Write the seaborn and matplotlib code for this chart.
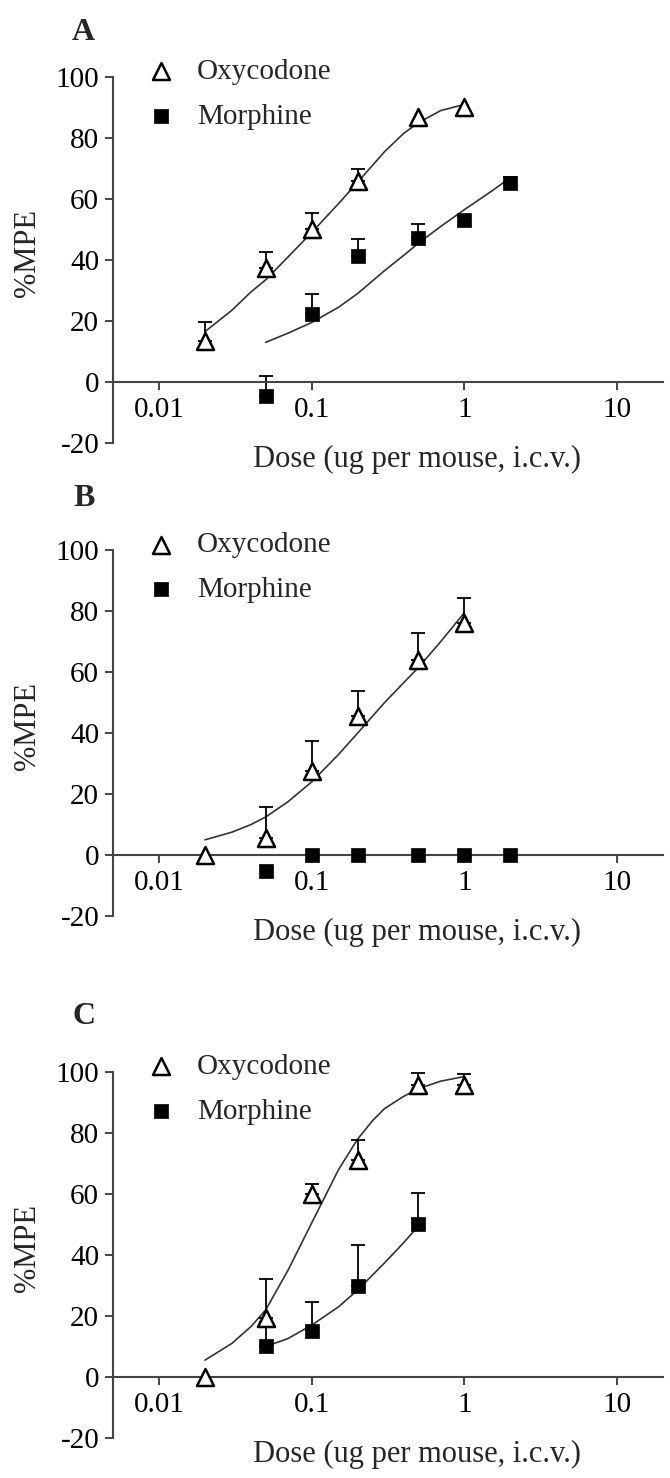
import numpy as np
import pandas as pd
import seaborn as sns
import matplotlib.pyplot as plt

# Doses (ug per mouse, i.c.v.)
oxy_doses = [0.02, 0.05, 0.1, 0.2, 0.5, 1]
mor_doses = [0.05, 0.1, 0.2, 0.5, 1, 2]
mor_doses_c = [0.05, 0.1, 0.2, 0.5]

# ---- Panel A ----
a_oxy_mpe = [13.3, 37.4, 50.0, 65.9, 87.0, 90.2]
a_oxy_err = [6.4, 5.3, 5.3, 3.8, 0, 0]
a_mor_mpe = [-4.7, 22.4, 41.2, 47.3, 53.0, 65.1]
a_mor_err = [6.6, 6.3, 5.7, 4.6, 0, 2.0]

# ---- Panel B ----
b_oxy_mpe = [0.0, 5.5, 27.6, 45.7, 63.9, 76.0]
b_oxy_err = [0, 10.2, 9.9, 8.0, 9.0, 8.4]
b_mor_mpe = [-5.2, 0.0, 0.0, 0.0, 0.0, 0.0]
b_mor_err = [0, 0, 0, 0, 0, 0]

# ---- Panel C ----
c_oxy_mpe = [0.0, 19.2, 59.9, 71.1, 95.8, 95.8]
c_oxy_err = [0, 12.9, 3.3, 6.7, 3.8, 3.4]
c_mor_mpe = [10.1, 15.2, 29.9, 50.0]
c_mor_err = [8.0, 9.5, 13.5, 10.4]

# fitted dose-response curves
a_oxy_fit_x = [0.02, 0.03, 0.04, 0.05, 0.07, 0.1, 0.15, 0.2, 0.3, 0.4, 0.5, 0.7, 1]
a_oxy_fit = [16.5, 23.5, 29.5, 33.5, 41, 49, 58.5, 65.5, 75.5, 81.5, 85, 89, 91]
a_mor_fit_x = [0.05, 0.07, 0.1, 0.15, 0.2, 0.3, 0.4, 0.5, 0.7, 1, 1.5, 2]
a_mor_fit = [13, 16, 19.5, 24.5, 29, 36.5, 41.5, 45.5, 51, 56.5, 62.5, 67]
b_oxy_fit_x = [0.02, 0.03, 0.04, 0.05, 0.07, 0.1, 0.15, 0.2, 0.3, 0.4, 0.5, 0.7, 1]
b_oxy_fit = [5, 7.5, 10, 12.5, 17.5, 24, 33, 40, 50, 56.5, 61.5, 70, 79.5]
c_oxy_fit_x = [0.02, 0.03, 0.04, 0.05, 0.07, 0.1, 0.15, 0.2, 0.25, 0.3, 0.4, 0.5, 0.7, 1]
c_oxy_fit = [5.5, 11, 16.5, 22, 35, 50.5, 68, 78, 84, 88, 92, 94.5, 97, 98.5]
c_mor_fit_x = [0.05, 0.07, 0.1, 0.15, 0.2, 0.3, 0.4, 0.5]
c_mor_fit = [10, 12.6, 17, 23, 28.5, 37.4, 44, 49.5]

sns.set_style('white')
plt.rcParams['font.family'] = ['Liberation Serif', 'DejaVu Serif']
plt.rcParams['axes.unicode_minus'] = False

FS = 21
AX_COL = '#444444'

fig = plt.figure(figsize=(6.7, 14.78), dpi=100)


def draw_panel(ax, letter, letter_y, oxy, oxy_err, mdoses, mor, mor_err,
               ofit_x, ofit, mfit_x, mfit):
    # fitted curves
    sns.lineplot(x=ofit_x, y=ofit, ax=ax, color='#333333', lw=1.2, zorder=1)
    if mfit is not None:
        sns.lineplot(x=mfit_x, y=mfit, ax=ax, color='#333333', lw=1.2, zorder=1)

    # one-sided error bars (upper only)
    for xs, ys, es in [(oxy_doses, oxy, oxy_err), (mdoses, mor, mor_err)]:
        d = pd.DataFrame({'x': xs, 'y': ys, 'e': es})
        d = d[d.e > 0]
        ax.errorbar(d.x, d.y, yerr=[np.zeros(len(d)), d.e], fmt='none', ecolor='black',
                    elinewidth=1.3, capsize=5, capthick=1.3, zorder=2, clip_on=False)

    sns.scatterplot(x=oxy_doses, y=oxy, ax=ax, marker='^', s=150, facecolor='white',
                    edgecolor='black', linewidth=1.8, label='Oxycodone', zorder=4, clip_on=False)
    sns.scatterplot(x=mdoses, y=mor, ax=ax, marker='s', s=115, color='black',
                    edgecolor='black', linewidth=0.5, label='Morphine', zorder=3, clip_on=False)

    ax.set_xscale('log')
    ax.set_xlim(0.005, 20)
    ax.set_ylim(-20, 100)
    ax.set_xticks([0.01, 0.1, 1, 10], labels=['0.01', '0.1', '1', '10'])
    ax.xaxis.set_minor_locator(plt.NullLocator())
    ax.set_yticks(range(-20, 101, 20))

    for s in ['top', 'right']:
        ax.spines[s].set_visible(False)
    ax.spines['bottom'].set_position(('data', 0))
    for s in ['left', 'bottom']:
        ax.spines[s].set_color(AX_COL)
        ax.spines[s].set_linewidth(1.5)

    ax.tick_params(axis='both', direction='out', length=6, width=1.4, color=AX_COL,
                   labelsize=FS, labelcolor='black', bottom=True, left=True)
    ax.tick_params(axis='x', pad=5)
    ax.tick_params(axis='y', pad=4)

    ax.set_ylabel('%MPE', fontsize=FS + 1)
    ax.yaxis.set_label_coords(-0.13, 0.52)
    ax.set_xlabel('Dose (ug per mouse, i.c.v.)', fontsize=FS + 1)
    ax.xaxis.set_label_coords(0.553, -0.005)

    ax.legend(loc='upper left', bbox_to_anchor=(0.06, 1.05), frameon=False, fontsize=FS,
              handlelength=1.0, handletextpad=0.75, labelspacing=0.62, borderpad=0,
              borderaxespad=0)

    fig.text(0.125, letter_y, letter, fontsize=23, fontweight='bold', ha='center', va='center')


left, width, height = 0.1687, 0.8209, 0.2476
ax_a = fig.add_axes([left, 0.7003, width, height])
ax_b = fig.add_axes([left, 0.3802, width, height])
ax_c = fig.add_axes([left, 0.0271, width, height])

draw_panel(ax_a, 'A', 0.978, a_oxy_mpe, a_oxy_err, mor_doses, a_mor_mpe, a_mor_err,
           a_oxy_fit_x, a_oxy_fit, a_mor_fit_x, a_mor_fit)
draw_panel(ax_b, 'B', 0.663, b_oxy_mpe, b_oxy_err, mor_doses, b_mor_mpe, b_mor_err,
           b_oxy_fit_x, b_oxy_fit, None, None)
draw_panel(ax_c, 'C', 0.312, c_oxy_mpe, c_oxy_err, mor_doses_c, c_mor_mpe, c_mor_err,
           c_oxy_fit_x, c_oxy_fit, c_mor_fit_x, c_mor_fit)

fig.savefig('out.png', dpi=100)
